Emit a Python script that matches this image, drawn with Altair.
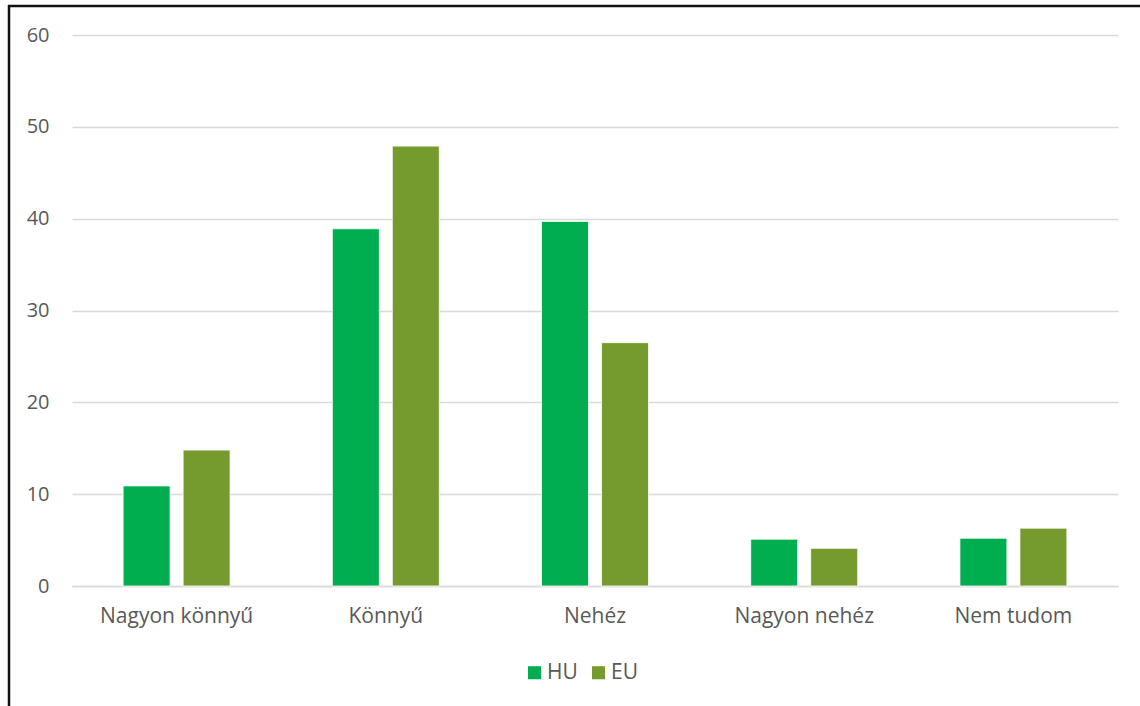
import altair as alt
import pandas as pd

categories = ["Nagyon könnyű", "Könnyű", "Nehéz", "Nagyon nehéz", "Nem tudom"]
series = ["HU", "EU"]
hu_values = [10.9, 38.9, 39.7, 5.1, 5.2]
eu_values = [14.8, 47.9, 26.5, 4.1, 6.3]
colors = ["#00AD4F", "#759A2D"]

rows = []
for c, h, e in zip(categories, hu_values, eu_values):
    rows.append({"kat": c, "sor": "HU", "ertek": h})
    rows.append({"kat": c, "sor": "EU", "ertek": e})
df = pd.DataFrame(rows)

FONT = "Open Sans"
FS = 21
W, H = 1046, 551

bars = alt.Chart(df).mark_bar(stroke="white", strokeWidth=0.8).encode(
    x=alt.X("kat:N", sort=categories, title=None,
            scale=alt.Scale(paddingInner=0, paddingOuter=0),
            axis=alt.Axis(labelAngle=0, ticks=False, tickSize=0, domain=True,
                          domainColor="#D9D9D9", domainWidth=1.5,
                          labelPadding=19, labelFontSize=FS, labelColor="#595959",
                          labelFont=FONT, grid=False)),
    xOffset=alt.XOffset("sor:N", sort=series,
                        scale=alt.Scale(paddingInner=0.217, paddingOuter=0.852)),
    y=alt.Y("ertek:Q", title=None,
            scale=alt.Scale(domain=[0, 60], nice=False),
            axis=alt.Axis(values=[0, 10, 20, 30, 40, 50, 60], ticks=False, domain=False,
                          labelPadding=23, labelFontSize=20, labelColor="#595959",
                          labelFont=FONT, gridColor="#D9D9D9", gridWidth=1.5)),
    color=alt.Color("sor:N", sort=series,
                    scale=alt.Scale(domain=series, range=colors),
                    legend=alt.Legend(title=None, orient="none", direction="horizontal",
                                      legendX=452, legendY=627,
                                      symbolType="square", symbolSize=170,
                                      symbolStrokeWidth=0, labelFontSize=FS,
                                      labelColor="#595959", labelFont=FONT,
                                      columnPadding=10, labelOffset=2)),
)

border_df = pd.DataFrame({"k": [0]})
left_border = alt.Chart(border_df).mark_rule(color="#111111", strokeWidth=2.5).encode(
    x=alt.value(-63), y=alt.value(-30), y2=alt.value(700))
top_border = alt.Chart(border_df).mark_rule(color="#111111", strokeWidth=2.5).encode(
    x=alt.value(-64), x2=alt.value(1100), y=alt.value(-29))

chart = alt.layer(bars, left_border, top_border).properties(
    width=W, height=H,
    autosize=alt.AutoSizeParams(type="none"),
    padding={"left": 72, "top": 35, "right": 22, "bottom": 120},
    background="white",
).configure_view(stroke=None)

chart.save("out.html", embed_options={"renderer": "svg", "actions": False})
